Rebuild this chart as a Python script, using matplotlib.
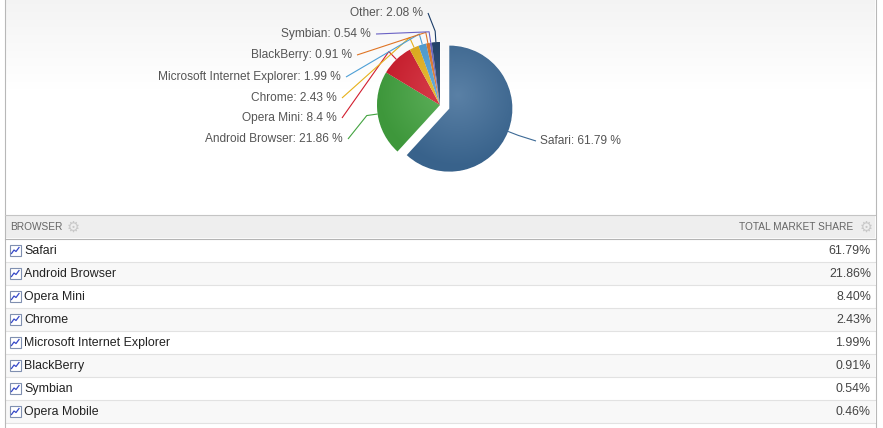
import numpy as np
import matplotlib
matplotlib.use("Agg")
import matplotlib.pyplot as plt
from matplotlib.patches import Rectangle
from matplotlib.colors import to_rgb

# pie slices, in drawing order (clockwise from 12 o'clock)
pie_names = ["Safari", "Android Browser", "Opera Mini", "Chrome",
             "Microsoft Internet Explorer", "BlackBerry", "Symbian", "Other"]
pie_shares = [61.79, 21.86, 8.4, 2.43, 1.99, 0.91, 0.54, 2.08]
pie_colors = ["#3d6a96", "#43a340", "#d21e2e", "#e6b11a",
              "#4d9fd6", "#df7424", "#6a62c4", "#1b3d68"]

# table below the chart
table_names = ["Safari", "Android Browser", "Opera Mini", "Chrome",
               "Microsoft Internet Explorer", "BlackBerry", "Symbian", "Opera Mobile"]
table_shares = [61.79, 21.86, 8.40, 2.43, 1.99, 0.91, 0.54, 0.46]

W, H = 883, 428
FONT = "Liberation Sans"


def py(y):
    # pixel row (from top) -> axes y
    return H - y


fig = plt.figure(figsize=(W / 100, H / 100), dpi=100)
ax = fig.add_axes([0, 0, 1, 1])

# chart background: faint grey fading to white
grad = np.concatenate([np.linspace(0.955, 1.0, 90), np.ones(125)])[:, None]
ax.imshow(np.dstack([grad, grad, grad]), extent=(5, 875, py(215), py(0)),
          aspect="auto", zorder=0, interpolation="bilinear")

# pie
cx, cy, r = 440, py(105), 63
explode = [10] + [0] * (len(pie_shares) - 1)
wedges, _ = ax.pie(pie_shares, colors=pie_colors, startangle=90, counterclock=False,
                   radius=r, center=(cx, cy), explode=explode,
                   wedgeprops=dict(edgecolor="white", linewidth=0.7, zorder=2))

# soft radial shading on each slice
yy, xx = np.mgrid[py(30):py(190):-1, 360:530]
for w, col in zip(wedges, pie_colors):
    wx, wy = w.center
    t = np.clip(np.hypot(xx - (wx + 8), yy - (wy + 14)) / (r * 1.1), 0, 1)[..., None]
    base = np.array(to_rgb(col))
    light = base + (1 - base) * 0.15
    dark = base * 0.93
    img = light * (1 - t) + dark * t
    im = ax.imshow(img, extent=(360, 530, py(190), py(30)), origin="upper",
                   zorder=2.5, interpolation="bilinear", aspect="auto")
    im.set_clip_path(w)

# data labels with connectors
label_y = [141, 139, 118, 98, 77, 55, 34, 13]
label_x = [540, 343, 337, 337, 341, 352, 371, 423]
for i, (w, name, val, col) in enumerate(zip(wedges, pie_names, pie_shares, pie_colors)):
    th = np.deg2rad((w.theta1 + w.theta2) / 2)
    wx, wy = w.center
    ex, ey = wx + r * np.cos(th), wy + r * np.sin(th)
    bx, by = wx + (r + 11) * np.cos(th), wy + (r + 11) * np.sin(th)
    right = np.cos(th) > 0
    lx = label_x[i] - 4 if right else label_x[i] + 5
    ax.plot([lx, bx, ex], [py(label_y[i]), by, ey], color=col, lw=0.8,
            zorder=3, solid_capstyle="butt")
    ax.text(label_x[i], py(label_y[i]), f"{name}: {val:g} %",
            ha="left" if right else "right", va="center",
            fontsize=8.6, family=FONT, color="#555555", zorder=4)

# frame lines
ax.plot([4.5, 4.5], [0, H], color="#b8b8b8", lw=0.8, zorder=5)
ax.plot([875.5, 875.5], [0, H], color="#b8b8b8", lw=0.8, zorder=5)
ax.plot([5, 875], [py(214.5), py(214.5)], color="#c4c4c4", lw=0.8, zorder=5)

# table header
ax.add_patch(Rectangle((5, py(238)), 870, 23.5, facecolor="#eeeeee",
                       edgecolor="none", zorder=1))
ax.plot([5, 875], [py(238.5), py(238.5)], color="#b4b4b4", lw=0.8, zorder=5)
ax.text(10, py(227), "BROWSER", fontsize=7.3, family=FONT, color="#666666",
        ha="left", va="center", zorder=4)
ax.text(853, py(227), "TOTAL MARKET SHARE", fontsize=7.3, family=FONT,
        color="#666666", ha="right", va="center", zorder=4)
for gx in (73, 866):
    ax.text(gx, py(227), "\u2699", fontsize=10.5, family="DejaVu Sans",
            color="#c8c8c8", ha="center", va="center", zorder=4)

# table rows
row_h = 23
top = 239
for k, (name, val) in enumerate(zip(table_names, table_shares)):
    y0 = top + k * row_h
    yc = py(y0 + row_h / 2)
    ax.add_patch(Rectangle((5, py(y0 + row_h)), 870, row_h,
                           facecolor="#ffffff" if k % 2 == 0 else "#f8f8f8",
                           edgecolor="none", zorder=1))
    ax.plot([5, 875], [py(y0 + row_h - 0.5)] * 2, color="#e2e2e2", lw=0.8, zorder=2)
    # small chart checkbox
    ax.add_patch(Rectangle((9.5, yc - 5.5), 11, 11, facecolor="white",
                           edgecolor="#7f8fb0", lw=0.8, zorder=3))
    ax.plot([11.5, 14, 16, 19], [yc - 3, yc + 0.5, yc - 1, yc + 3],
            color="#3548c8", lw=0.9, zorder=4)
    ax.text(24, yc - 0.5, name, fontsize=8.9, family=FONT, color="#222222",
            ha="left", va="center", zorder=4)
    ax.text(871, yc - 0.5, f"{val:.2f}%", fontsize=8.9, family=FONT, color="#444444",
            ha="right", va="center", zorder=4)

ax.set_xlim(0, W)
ax.set_ylim(0, H)
ax.set_aspect("auto")
ax.axis("off")

fig.savefig("out.png", dpi=100, facecolor="white")
